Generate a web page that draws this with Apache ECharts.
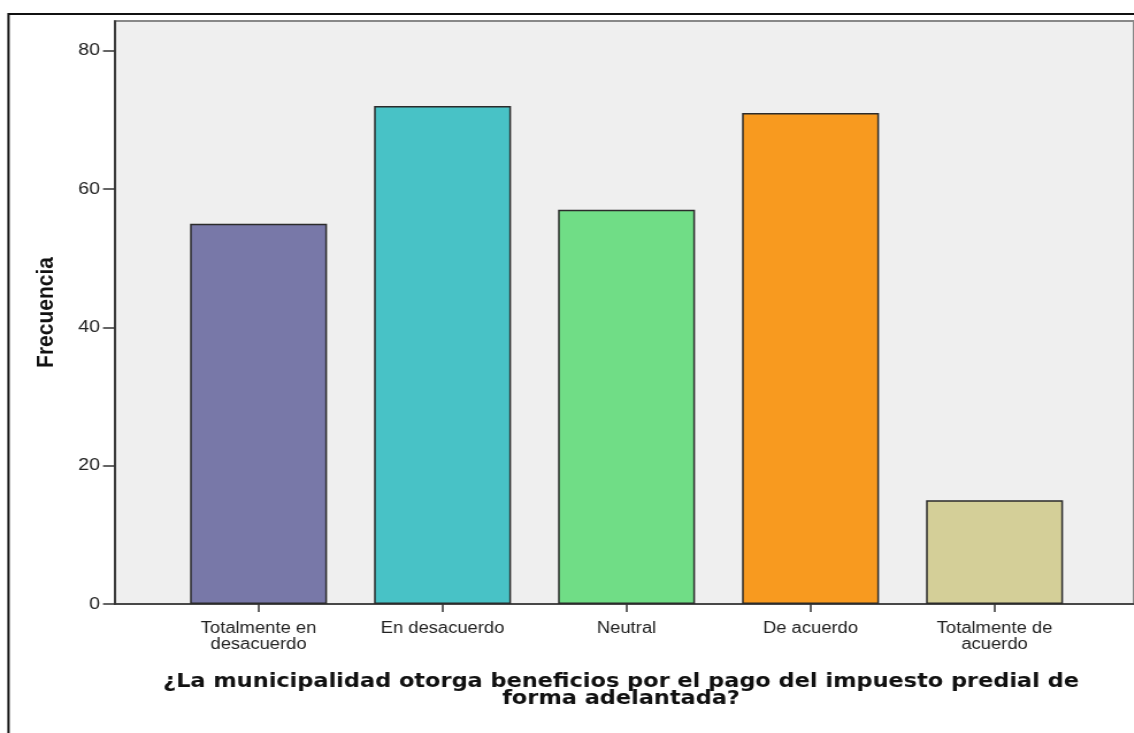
<!DOCTYPE html>
<html><head><meta charset="utf-8">
<script src="https://cdn.jsdelivr.net/npm/echarts@6/dist/echarts.min.js"></script>
<style>html,body{margin:0;padding:0;background:#fff;overflow:hidden}
#c{width:986px;height:733px;transform:scaleX(1.15);transform-origin:0 0}</style>
</head><body><div id="c"></div>
<script>
const categories = ['Totalmente en\ndesacuerdo', 'En desacuerdo', 'Neutral', 'De acuerdo', 'Totalmente de\nacuerdo'];
const values = [55, 72, 57, 71, 15];
const barColors = ['#7878a8', '#48c2c6', '#70dd86', '#f89a1f', '#d4cf98'];
const yTicks = [0, 20, 40, 60, 80];
const yTitle = 'Frecuencia';
const xTitle = '¿La municipalidad otorga beneficios por el pago del impuesto predial de\nforma adelantada?';
const yMax = 84.3;

const chart = echarts.init(document.getElementById('c'), null, {renderer: 'canvas'});
chart.setOption({
  animation: false,
  backgroundColor: '#fff',
  title: {
    text: xTitle, left: 535, top: 668, textAlign: 'center',
    textStyle: {fontFamily: 'DejaVu Sans', fontWeight: 'bold', fontSize: 19.5, lineHeight: 17, color: '#111'}
  },
  graphic: [{
    type: 'rect', shape: {x: 7.4, y: 14, width: 1200, height: 800},
    style: {fill: 'none', stroke: '#111', lineWidth: 2}, silent: true, z: 10
  }],
  grid: [
    {left: 100, right: -3, top: 21, bottom: 129, show: true, backgroundColor: '#efefef', borderColor: '#888', borderWidth: 2},
    {left: 144.8, width: 800, top: 21, bottom: 129}
  ],
  xAxis: [
    {gridIndex: 0, type: 'value', min: 0, max: 1, axisLine: {show: true, onZero: false, lineStyle: {color: '#333', width: 1.5}},
     axisTick: {show: false}, axisLabel: {show: false}, splitLine: {show: false}},
    {gridIndex: 1, type: 'category', data: categories, boundaryGap: true,
     axisLine: {show: false}, axisTick: {show: true, alignWithLabel: true, length: 8, lineStyle: {color: '#333', width: 1.5}},
     axisLabel: {margin: 17, fontFamily: 'Liberation Sans', fontSize: 16, lineHeight: 16, color: '#222'}}
  ],
  yAxis: [
    {gridIndex: 0, type: 'value', min: 0, max: yMax,
     axisLine: {show: true, lineStyle: {color: '#222', width: 1.5}},
     axisTick: {show: true, length: 10.4, customValues: yTicks, lineStyle: {color: '#333', width: 1.5}},
     axisLabel: {customValues: yTicks, margin: 13, fontFamily: 'Liberation Sans', fontSize: 17, color: '#222'},
     splitLine: {show: false},
     name: yTitle, nameLocation: 'middle', nameGap: 49, nameRotate: 90,
     nameTextStyle: {fontFamily: 'Liberation Sans', fontWeight: 'bold', fontSize: 21, color: '#111'}},
    {gridIndex: 1, type: 'value', min: 0, max: yMax, show: false}
  ],
  series: [{
    type: 'bar', xAxisIndex: 1, yAxisIndex: 1, barWidth: 119.1,
    data: values.map((v, i) => ({value: v, itemStyle: {color: barColors[i]}})),
    itemStyle: {borderColor: '#2b2b2b', borderWidth: 1.5}
  }]
});
</script></body></html>
